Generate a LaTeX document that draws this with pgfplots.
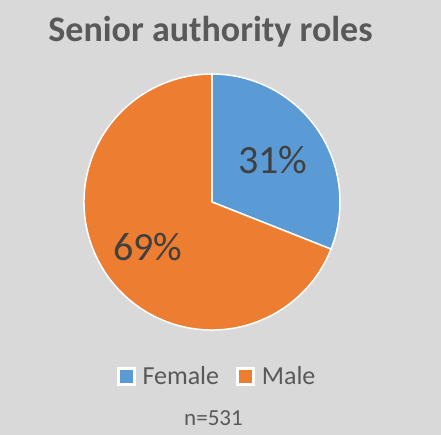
\documentclass[border=0pt]{standalone}
\usepackage{pgfplots}
\usepackage{pgfplotstable}
\pgfplotsset{compat=1.18}
\usepackage{fontspec}
\setmainfont{Carlito}
\definecolor{bgC}{HTML}{D9D9D9}
\definecolor{blueC}{HTML}{5B9BD5}
\definecolor{orangeC}{HTML}{ED7D31}
\definecolor{titleC}{HTML}{595959}
\definecolor{labC}{HTML}{404040}
\pgfplotstableread{
label value
Female 31
Male 69
}\piedata
\newcommand\legfont{\fontsize{26bp}{31bp}\selectfont}
\begin{document}
\begin{tikzpicture}
\pgfplotstablegetelem{0}{value}\of\piedata \let\vA\pgfplotsretval
\pgfplotstablegetelem{1}{value}\of\piedata \let\vB\pgfplotsretval
\pgfmathsetmacro\angA{90-3.6*\vA}
\pgfmathsetmacro\angB{\angA-3.6*\vB}
\pgfmathsetmacro\cxA{cos(\angA)}
\pgfmathsetmacro\cyA{sin(\angA)}
\fill[bgC] (-212bp,-233bp) rectangle (229bp,202bp);
\begin{axis}[
  hide axis, scale only axis, width=256bp, height=256bp,
  xmin=-1, xmax=1, ymin=-1, ymax=1,
  at={(0,0)}, anchor=center, clip=false,
  legend style={draw=none, fill=none, at={(0.518,-0.18)}, anchor=center,
    legend columns=2,
    nodes={text=titleC, inner xsep=1bp},
    /tikz/every even column/.append style={column sep=16bp}},
  legend image code/.code={\draw[#1, draw=white, line width=3bp] (0bp,-8bp) rectangle (16bp,8bp); \path (23bp,0bp);},
]
\addlegendimage{fill=blueC}
\addlegendentry{\legfont Female}
\addlegendimage{fill=orangeC}
\addlegendentry{\legfont Male}
\fill[blueC, draw=white, line width=1.5bp] (axis cs:0,0) -- (axis cs:0,1) arc[start angle=90, end angle=\angA, radius=128bp] -- cycle;
\fill[orangeC, draw=white, line width=1.5bp] (axis cs:0,0) -- (axis cs:\cxA,\cyA) arc[start angle=\angA, end angle=\angB, radius=128bp] -- cycle;
\end{axis}
\node[text=labC, font=\fontsize{40bp}{48bp}\selectfont] at (61bp,42bp) {31\%};
\node[text=labC, font=\fontsize{40bp}{48bp}\selectfont] at (-64bp,-45bp) {69\%};
\node[text=titleC, font=\bfseries\fontsize{36bp}{43bp}\selectfont] at (-1.5bp,170bp) {Senior authority roles};
\node[text=titleC, font=\fontsize{23bp}{27bp}\selectfont] at (1.5bp,-216bp) {n=531};
\end{tikzpicture}
\end{document}
